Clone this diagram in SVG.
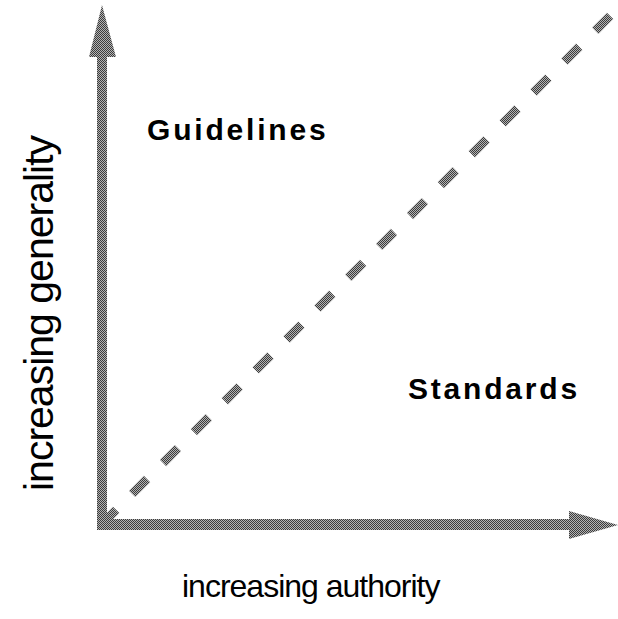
<svg xmlns="http://www.w3.org/2000/svg" width="618" height="619" viewBox="0 0 618 619">
<defs>
<pattern id="dots" width="2" height="2" patternUnits="userSpaceOnUse">
<rect width="2" height="2" fill="#b4b4b4"/>
<rect width="1" height="1" fill="#3c3c3c"/>
<rect x="1" y="1" width="1" height="1" fill="#3c3c3c"/>
</pattern>
</defs>
<style>
.lbl{font-family:"Liberation Sans",Arial,sans-serif;fill:#000}
.b{font-weight:bold;font-size:30px;letter-spacing:2.8px}
.ax{fill:url(#dots)}
</style>
<rect width="618" height="619" fill="#fff"/>
<g id="connectors">
<line id="divider" x1="101.3" y1="524.7" x2="611" y2="15" stroke="url(#dots)" stroke-width="9" stroke-dasharray="21 22.66"/>
<polygon id="y-axis" class="ax" points="97,530 97,57 89,57 102,5 116,57 107,57 107,530"/>
<polygon id="x-axis" class="ax" points="97,519 569,519 569,511 618,525 569,539 569,530 97,530"/>
</g>
<g id="guidelines"><text class="lbl b" x="147" y="140">Guidelines</text></g>
<g id="standards"><text class="lbl b" x="408" y="399">Standards</text></g>
<g id="x-label"><text class="lbl" x="182" y="597" font-size="32" letter-spacing="-1">increasing authority</text></g>
<g id="y-label"><text class="lbl" transform="translate(53,491) rotate(-90)" font-size="41" letter-spacing="-1">increasing generality</text></g>
</svg>
